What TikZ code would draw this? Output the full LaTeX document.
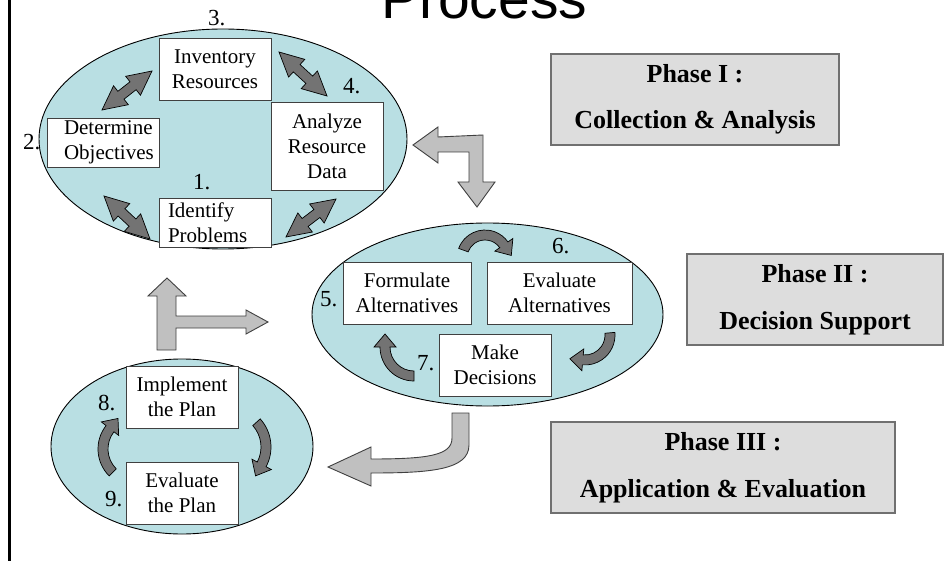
\documentclass[tikz,border=0pt]{standalone}
\usepackage{fontspec}
\setmainfont{Liberation Serif}
\newfontfamily\titlefont{Liberation Sans}
\usetikzlibrary{calc,shapes.geometric}

\definecolor{lagoon}{RGB}{185,223,227}
\definecolor{arrowdark}{RGB}{115,115,115}
\definecolor{arrowlight}{RGB}{192,192,192}
\definecolor{boxedge}{RGB}{64,64,64}
\definecolor{phasefill}{RGB}{221,221,221}
\definecolor{phaseedge}{RGB}{112,112,112}

\tikzset{
  stage/.style={ellipse, draw=black, line width=0.9pt, fill=lagoon, inner sep=0pt},
  stepbox/.style={rectangle, draw=boxedge, line width=0.9pt, fill=white, inner sep=0pt,
    align=center, font=\fontsize{21}{25}\selectfont},
  leftbox/.style={stepbox, align=left},
  num/.style={anchor=base west, inner sep=0pt, font=\fontsize{23}{25}\selectfont},
  phasebox/.style={rectangle, draw=phaseedge, line width=1.5pt, fill=phasefill, inner sep=0pt,
    align=center, font=\fontsize{26}{46.5}\selectfont\bfseries},
  darkarrow/.style={fill=arrowdark, draw=black, line width=0.7pt, line join=miter},
  lightarrow/.style={fill=arrowlight, draw=boxedge, line width=0.9pt, line join=miter},
}

% two-headed block arrow between two named coordinates
\newcommand\twohead[2]{%
  \draw[darkarrow] (#1)
    -- ($(#1)!24pt!(#2)!12pt!90:(#2)$)
    -- ($(#1)!24pt!(#2)!5pt!90:(#2)$)
    -- ($(#2)!24pt!(#1)!5pt!-90:(#1)$)
    -- ($(#2)!24pt!(#1)!12pt!-90:(#1)$)
    -- (#2)
    -- ($(#2)!24pt!(#1)!12pt!90:(#1)$)
    -- ($(#2)!24pt!(#1)!5pt!90:(#1)$)
    -- ($(#1)!24pt!(#2)!5pt!-90:(#2)$)
    -- ($(#1)!24pt!(#2)!12pt!-90:(#2)$)
    -- cycle;}

% curved block arrow: centre x, centre y, radius, start angle, end angle
\newcommand\bentarc[5]{%
  \draw[darkarrow] ({#1+(#3+5)*cos(#4)},{#2+(#3+5)*sin(#4)})
    arc[start angle=#4, end angle=#5, radius={#3+5}]
    -- ({#1+(#3+11)*cos(#5)},{#2+(#3+11)*sin(#5)})
    -- ({#1+#3*cos(#5)-13*sin(#5)},{#2+#3*sin(#5)+13*cos(#5)})
    -- ({#1+(#3-11)*cos(#5)},{#2+(#3-11)*sin(#5)})
    -- ({#1+(#3-5)*cos(#5)},{#2+(#3-5)*sin(#5)})
    arc[start angle=#5, end angle=#4, radius={#3-5}]
    -- cycle;}

\begin{document}
\begin{tikzpicture}[x=1pt, y=-1pt]
\useasboundingbox (0,0) rectangle (952,561);
\clip (0,0) rectangle (952,561);
\fill[white] (0,0) rectangle (952,561);

% title and frame line
\node[anchor=base west, inner sep=0pt, font=\titlefont\fontsize{57}{60}\selectfont] (title) at (381,18.5) {Process};
\draw[line width=2.5pt] (9.5,0) -- (9.5,561);

% the three stage ellipses
\node[stage, minimum width=368pt, minimum height=220pt] (e1) at (223,139) {};
\node[stage, minimum width=351pt, minimum height=183pt] (e2) at (487.5,314.5) {};
\node[stage, minimum width=262pt, minimum height=175pt] (e3) at (182,446.5) {};

% phase I steps
\node[stepbox, minimum width=112pt, minimum height=62pt] (inv) at (215,69) {Inventory\\Resources};
\node[leftbox, text width=78pt, inner xsep=17pt, minimum height=49pt] (obj) at (103,142.5) {Determine\\Objectives};
\node[leftbox, text width=94pt, inner xsep=9pt, minimum height=49pt] (prob) at (215,222.5) {Identify\\Problems};
\node[stepbox, minimum width=112pt, minimum height=88pt] (anl) at (327,146) {Analyze\\Resource\\Data};

% phase II steps
\node[stepbox, minimum width=128pt, minimum height=62pt] (form) at (407,293) {Formulate\\Alternatives};
\node[stepbox, minimum width=145pt, minimum height=62pt] (evalt) at (559.5,293) {Evaluate\\Alternatives};
\node[stepbox, minimum width=112pt, minimum height=62pt] (dec) at (495,365) {Make\\Decisions};

% phase III steps
\node[stepbox, minimum width=112pt, minimum height=62pt] (impl) at (182,397) {Implement\\the Plan};
\node[stepbox, minimum width=112pt, minimum height=62pt] (evpl) at (182,493) {Evaluate\\the Plan};

% step numbers
\node[num] (n1) at (193,190) {1.};
\node[num] (n2) at (23,150) {2.};
\node[num] (n3) at (208,26) {3.};
\node[num] (n4) at (343,93.5) {4.};
\node[num] (n5) at (320,306) {5.};
\node[num] (n6) at (552,254) {6.};
\node[num] (n7) at (417,370) {7.};
\node[num] (n8) at (98,410) {8.};
\node[num] (n9) at (105,506) {9.};

% two-headed arrows around phase I
\coordinate (a23s) at (102,110); \coordinate (a23e) at (152,71);
\coordinate (a34s) at (279,52);  \coordinate (a34e) at (327,96);
\coordinate (a21s) at (104,196); \coordinate (a21e) at (150,239);
\coordinate (a14s) at (286,237); \coordinate (a14e) at (336,199);
\twohead{a23s}{a23e}
\twohead{a34s}{a34e}
\twohead{a21s}{a21e}
\twohead{a14s}{a14e}

% curved arrows of phases II and III
\bentarc{485}{258}{23}{200}{325}
\bentarc{585}{335}{25}{-5}{95}
\bentarc{414}{347}{29}{90}{180}
\bentarc{136}{449}{33}{135}{218}
\bentarc{229}{447}{37}{-42}{28}

% links between phases
\draw[lightarrow] (413,145) -- (438,127) -- (438,137) -- (483,135) -- (483,182)
  -- (495,182) -- (477,207) -- (458,182) -- (469,182) -- (469,152)
  -- (438,152) -- (438,163) -- cycle;
\draw[lightarrow] (157,350) -- (157,296) -- (148,296) -- (167,278) -- (186,296)
  -- (176,296) -- (176,316) -- (246,316) -- (246,310) -- (268,322)
  -- (246,334) -- (246,328) -- (176,328) -- (176,350) -- cycle;
\draw[lightarrow] (452,413) -- (469,413) -- (469,445)
  .. controls (469,470) and (430,473) .. (371,473)
  -- (371,486) -- (328,467) -- (371,447) -- (371,459)
  .. controls (430,459) and (452,455) .. (452,438) -- cycle;

% phase captions
\node[phasebox, minimum width=288pt, minimum height=91pt] (ph1) at (695,99.5) {Phase I :\\Collection \& Analysis};
\node[phasebox, minimum width=256pt, minimum height=91pt] (ph2) at (815,299.5) {Phase II :\\Decision Support};
\node[phasebox, minimum width=344pt, minimum height=91pt] (ph3) at (723,467.5) {Phase III :\\Application \& Evaluation};
\end{tikzpicture}
\end{document}
